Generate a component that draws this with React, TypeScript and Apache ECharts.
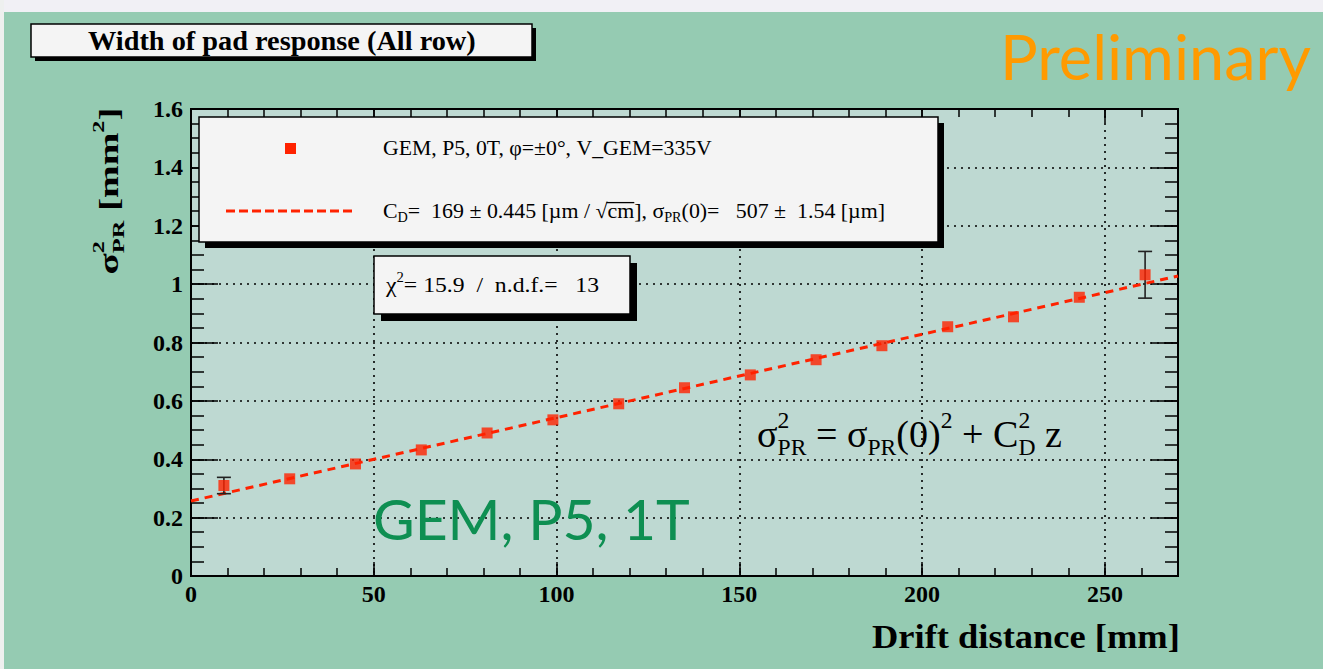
import React, { useEffect, useRef } from "react";
import * as echarts from "echarts";

// ---- data ----
const driftX = [9, 27, 45, 63, 81, 99, 117, 135, 153, 171, 189, 207, 225, 243, 261];
const sigmaY = [0.31, 0.333, 0.384, 0.432, 0.49, 0.535, 0.59, 0.645, 0.689, 0.741, 0.789, 0.854, 0.888, 0.955, 1.032];
const sigmaErr = [0.028, 0.006, 0.006, 0.006, 0.006, 0.006, 0.006, 0.006, 0.006, 0.006, 0.006, 0.006, 0.006, 0.006, 0.08];
const fitX = [0, 270];
const fitY = [0.257, 1.028];

const titleText = "Width of pad response (All row)";
const legendEntry = "GEM, P5, 0T, \u03C6=\u00B10\u00B0, V_GEM=335V";
const xTitle = "Drift distance [mm]";

const SERIF = "Liberation Serif";
const RED = "#FF2200";

type Seg = { t?: string; r?: number; dy?: number; over?: boolean; stack?: [string, string] };

let ctx2d: CanvasRenderingContext2D | null = null;
function measure(text: string, size: number, weight: string, family: string) {
  if (!ctx2d) ctx2d = document.createElement("canvas").getContext("2d");
  ctx2d!.font = `${weight} ${size}px "${family}"`;
  return ctx2d!.measureText(text).width;
}

function rich(opts: {
  x: number; y: number; base: number; segs: Seg[]; family?: string; weight?: string; color?: string;
  align?: "left" | "center" | "right"; targetW?: number; rotation?: number; z?: number;
}) {
  const family = opts.family ?? SERIF;
  const weight = opts.weight ?? "normal";
  const color = opts.color ?? "#000";
  const z = opts.z ?? 20;
  const base = opts.base;
  const kids: any[] = [];
  let cx = 0;
  const txt = (t: string, x: number, y: number, fs: number) => ({
    type: "text", x, y, z,
    style: { text: t, fontSize: fs, fontFamily: family, fontWeight: weight, fill: color, align: "left", verticalAlign: "middle" },
  });
  for (const s of opts.segs) {
    if (s.stack) {
      const fs = base * (s.r ?? 0.62);
      const w1 = measure(s.stack[0], fs, weight, family);
      const w2 = measure(s.stack[1], fs, weight, family);
      kids.push(txt(s.stack[0], cx, -0.4 * base, fs));
      kids.push(txt(s.stack[1], cx, 0.33 * base, fs));
      cx += Math.max(w1, w2);
    } else {
      const fs = base * (s.r ?? 1);
      const w = measure(s.t!, fs, weight, family);
      kids.push(txt(s.t!, cx, (s.dy ?? 0) * base, fs));
      if (s.over) {
        kids.push({ type: "line", z, shape: { x1: cx - 1, y1: -0.4 * base, x2: cx + w, y2: -0.4 * base }, style: { stroke: color, lineWidth: 1.3 } });
      }
      cx += w;
    }
  }
  const W = cx;
  const off = opts.align === "center" ? -W / 2 : opts.align === "right" ? -W : 0;
  const sx = opts.targetW ? opts.targetW / W : 1;
  return {
    type: "group", x: opts.x, y: opts.y, scaleX: sx, rotation: opts.rotation ?? 0,
    children: [{ type: "group", x: off, y: 0, children: kids }],
  };
}

function boxWithShadow(x: number, y: number, w: number, h: number, sh: number, z = 15) {
  return [
    { type: "rect", z, shape: { x: x + sh, y: y + sh, width: w, height: h }, style: { fill: "#000" } },
    { type: "rect", z: z + 1, shape: { x, y, width: w, height: h }, style: { fill: "#F4F4F4", stroke: "#000", lineWidth: 1.5 } },
  ];
}

export default function App() {
  const ref = useRef<HTMLDivElement>(null);
  useEffect(() => {
    if (!ref.current) return;
    const chart = echarts.init(ref.current, undefined, { renderer: "svg" });

    const scatterData = driftX.map((x, i) => [x, sigmaY[i]]);
    const errData = driftX.map((x, i) => [x, sigmaY[i], sigmaErr[i]]);
    const fitData = fitX.map((x, i) => [x, fitY[i]]);

    const tickLine = { color: "#000", width: 1.5 };
    const mkX = (pos: "top" | "bottom", interval: number, len: number, main: boolean) => ({
      type: "value", min: 0, max: 270, interval, position: pos,
      axisLine: { show: main, onZero: false, lineStyle: { color: "#000", width: 2 } },
      axisTick: { show: true, inside: true, length: len, lineStyle: tickLine },
      splitLine: main && pos === "bottom" ? { show: true, lineStyle: { color: "#000", width: 1.6, type: [2, 5] } } : { show: false },
      axisLabel: main && pos === "bottom"
        ? { show: true, margin: 6, color: "#000", fontFamily: SERIF, fontWeight: "bold", fontSize: 24,
            formatter: (v: number) => (v % 50 === 0 ? String(v) : "") }
        : { show: false },
    });
    const mkY = (pos: "left" | "right", interval: number, len: number, main: boolean) => ({
      type: "value", min: 0, max: 1.6, interval, position: pos,
      axisLine: { show: main, onZero: false, lineStyle: { color: "#000", width: 2 } },
      axisTick: { show: true, inside: true, length: len, lineStyle: tickLine },
      splitLine: main && pos === "left" ? { show: true, lineStyle: { color: "#000", width: 1.6, type: [2, 5] } } : { show: false },
      axisLabel: main && pos === "left"
        ? { show: true, margin: 8, color: "#000", fontFamily: SERIF, fontWeight: "bold", fontSize: 24 }
        : { show: false },
    });

    const graphics: any[] = [
      { type: "rect", z: -5, shape: { x: 0, y: 0, width: 1323, height: 12 }, style: { fill: "#F1F0F5" } },
      { type: "rect", z: -5, shape: { x: 0, y: 0, width: 4, height: 669 }, style: { fill: "#EEF0EF" } },
      ...boxWithShadow(31, 24, 501, 33, 4),
      rich({ x: 282, y: 41, base: 27, weight: "bold", align: "center", targetW: 388, segs: [{ t: titleText }] }),
      rich({ x: 1000, y: 56, base: 61, family: "Lato", color: "#FF9A00", align: "left", targetW: 311, segs: [{ t: "Preliminary" }] }),
      ...boxWithShadow(199, 117, 739, 125, 6),
      { type: "rect", z: 20, shape: { x: 285, y: 143, width: 11, height: 11 }, style: { fill: RED } },
      { type: "line", z: 20, shape: { x1: 226, y1: 211, x2: 356, y2: 211 }, style: { stroke: RED, lineWidth: 3, lineDash: [9, 4] } },
      rich({ x: 383, y: 148, base: 21, align: "left", targetW: 329, segs: [{ t: legendEntry }] }),
      rich({
        x: 383, y: 211, base: 21, align: "left", targetW: 502,
        segs: [
          { t: "C" }, { t: "D", r: 0.65, dy: 0.3 }, { t: "=  169 \u00B1 0.445 [\u00B5m / " }, { t: "\u221A" },
          { t: "cm", over: true }, { t: "], " }, { t: "\u03C3" }, { t: "PR", r: 0.65, dy: 0.3 },
          { t: "(0)=   507 \u00B1  1.54 [\u00B5m]" },
        ],
      }),
      ...boxWithShadow(374, 256, 256, 58, 7),
      rich({
        x: 386, y: 285, base: 22, align: "left", targetW: 213,
        segs: [{ t: "\u03C7" }, { t: "2", r: 0.62, dy: -0.35 }, { t: "= 15.9  /  n.d.f.=   13" }],
      }),
      rich({
        x: 757, y: 435, base: 37, align: "left", targetW: 305, z: 5,
        segs: [
          { t: "\u03C3" }, { stack: ["2", "PR"] }, { t: " = \u03C3" }, { t: "PR", r: 0.62, dy: 0.33 },
          { t: "(0)" }, { t: "2", r: 0.62, dy: -0.4 }, { t: " + C" }, { stack: ["2", "D"] }, { t: " z" },
        ],
      }),
      rich({ x: 373, y: 518, base: 56, family: "Lato", color: "#0E8F52", align: "left", targetW: 317, z: 5, segs: [{ t: "GEM, P5, 1T" }] }),
      rich({
        x: 109, y: 191, base: 28, weight: "bold", align: "center", targetW: 167, rotation: Math.PI / 2,
        segs: [{ t: "\u03C3" }, { stack: ["2", "PR"] }, { t: " [mm" }, { t: "2", r: 0.62, dy: -0.4 }, { t: "]" }],
      }),
      rich({ x: 1180, y: 637, base: 34, weight: "bold", align: "right", targetW: 308, segs: [{ t: xTitle }] }),
    ];

    chart.setOption({
      animation: false,
      backgroundColor: "#95CBB2",
      grid: { left: 191, top: 109, width: 987, height: 467, show: true, backgroundColor: "#BED9D2", borderColor: "#000", borderWidth: 2 },
      xAxis: [mkX("bottom", 50, 14, true), mkX("bottom", 10, 8, false), mkX("top", 50, 14, false), mkX("top", 10, 8, false)],
      yAxis: [mkY("left", 0.2, 27, true), mkY("left", 0.05, 13, false), mkY("right", 0.2, 27, false), mkY("right", 0.05, 13, false)],
      series: [
        {
          type: "line", data: fitData, xAxisIndex: 0, yAxisIndex: 0, symbol: "none", z: 3,
          lineStyle: { color: RED, width: 3, type: [8, 6] },
        },
        {
          type: "custom", data: errData, xAxisIndex: 0, yAxisIndex: 0, z: 4,
          encode: { x: 0, y: 1 },
          renderItem: (_p: any, api: any) => {
            const x = api.value(0), y = api.value(1), e = api.value(2);
            const top = api.coord([x, y + e]);
            const bot = api.coord([x, y - e]);
            if (bot[1] - top[1] < 14) return { type: "group", children: [] };
            const cw = 7;
            const st = { stroke: "#222", lineWidth: 1.6 };
            return {
              type: "group",
              children: [
                { type: "line", shape: { x1: top[0], y1: top[1], x2: bot[0], y2: bot[1] }, style: st },
                { type: "line", shape: { x1: top[0] - cw, y1: top[1], x2: top[0] + cw, y2: top[1] }, style: st },
                { type: "line", shape: { x1: bot[0] - cw, y1: bot[1], x2: bot[0] + cw, y2: bot[1] }, style: st },
              ],
            };
          },
        },
        {
          type: "scatter", data: scatterData, xAxisIndex: 0, yAxisIndex: 0, symbol: "rect", symbolSize: 11, z: 5,
          itemStyle: { color: RED },
        },
      ],
      graphic: graphics,
    });
    return () => chart.dispose();
  }, []);
  return <div ref={ref} style={{ position: "absolute", left: 0, top: 0, width: 1323, height: 669 }} />;
}
